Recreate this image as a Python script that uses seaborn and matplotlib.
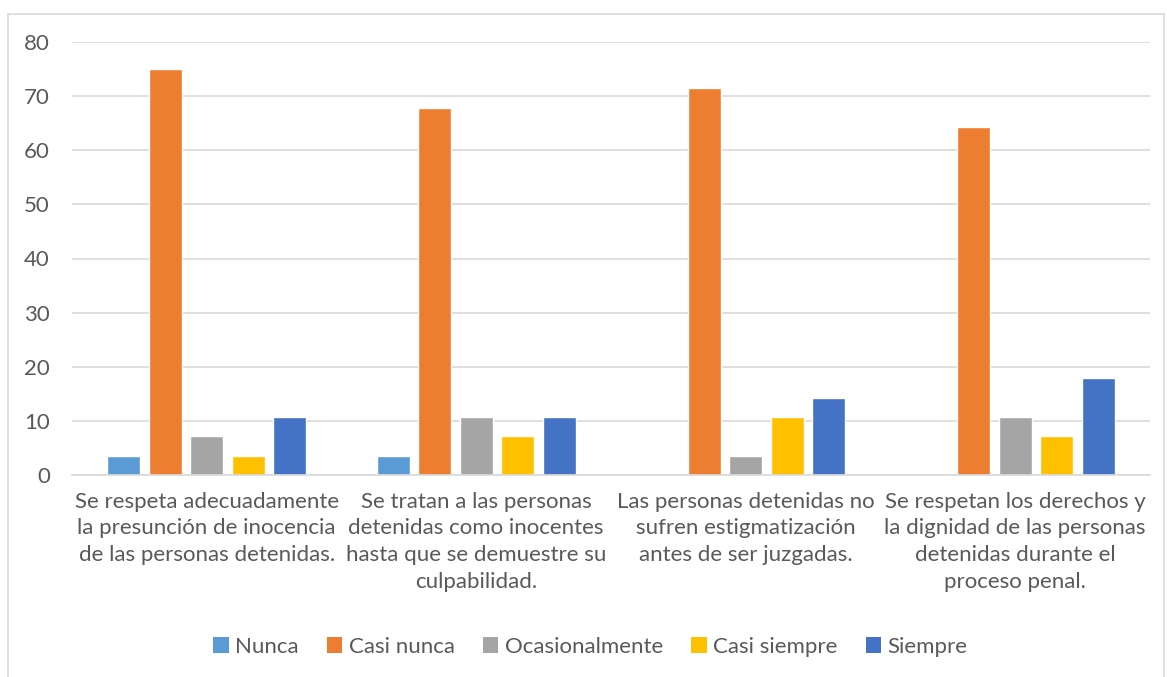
import pandas as pd
import seaborn as sns
import matplotlib.pyplot as plt
from matplotlib.patches import Rectangle, Patch

categories = [
    "Se respeta adecuadamente\nla presunción de inocencia\nde las personas detenidas.",
    "Se tratan a las personas\ndetenidas como inocentes\nhasta que se demuestre su\nculpabilidad.",
    "Las personas detenidas no\nsufren estigmatización\nantes de ser juzgadas.",
    "Se respetan los derechos y\nla dignidad de las personas\ndetenidas durante el\nproceso penal.",
]
series = ["Nunca", "Casi nunca", "Ocasionalmente", "Casi siempre", "Siempre"]
nunca = [3.57, 3.57, 0, 0]
casi_nunca = [75.0, 67.86, 71.43, 64.29]
ocasionalmente = [7.14, 10.71, 3.57, 10.71]
casi_siempre = [3.57, 7.14, 10.71, 7.14]
siempre = [10.71, 10.71, 14.29, 17.86]
colors = ["#5B9BD5", "#ED7D31", "#A5A5A5", "#FFC000", "#4472C4"]

rows = []
for name, vals in zip(series, [nunca, casi_nunca, ocasionalmente, casi_siempre, siempre]):
    for cat, v in zip(categories, vals):
        rows.append({"categoria": cat, "respuesta": name, "valor": v})
df = pd.DataFrame(rows)

sns.set_style("white")
plt.rcParams['font.family'] = ['Lato', 'DejaVu Sans']
text_color = "#595959"
fs = 16

fig = plt.figure(figsize=(11.67, 6.77), dpi=100)
W, H = 1167, 677
ax = fig.add_axes([72 / W, 1 - 475 / H, (1150 - 72) / W, (475 - 42) / H])

sns.barplot(data=df, x="categoria", y="valor", hue="respuesta", order=categories,
            hue_order=series, palette=colors, width=0.77, gap=0.2, ax=ax,
            saturation=1, legend=False)

ax.set_ylim(0, 80)
ax.set_yticks(range(0, 81, 10))
ax.set_xlim(-0.5, 3.5)
ax.yaxis.grid(True, color="#D9D9D9", linewidth=1.2)
ax.set_axisbelow(True)
for s in ["top", "right", "left"]:
    ax.spines[s].set_visible(False)
ax.spines["bottom"].set_color("#D9D9D9")
ax.spines["bottom"].set_linewidth(1.2)
ax.tick_params(axis="both", length=0, labelsize=fs, colors=text_color)
ax.tick_params(axis="x", pad=12)
ax.tick_params(axis="y", pad=16)
for lbl in ax.get_xticklabels():
    lbl.set_linespacing(1.42)
    lbl.set_va("top")
ax.set_xlabel("")
ax.set_ylabel("")

handles = [Patch(facecolor=c, edgecolor="none") for c in colors]
fig.legend(handles, series, loc="center", bbox_to_anchor=(0.506, 1 - 647 / H), ncol=5,
           frameon=False, fontsize=fs, labelcolor=text_color, handlelength=0.7,
           handleheight=0.7, handletextpad=0.3, columnspacing=1.25)

fig.patches.append(Rectangle((8 / W, -0.01), (1164 - 8) / W, 1 - 14 / H + 0.01,
                             transform=fig.transFigure, fill=False,
                             edgecolor="#D9D9D9", linewidth=1.2))

fig.savefig("out.png", dpi=100)
